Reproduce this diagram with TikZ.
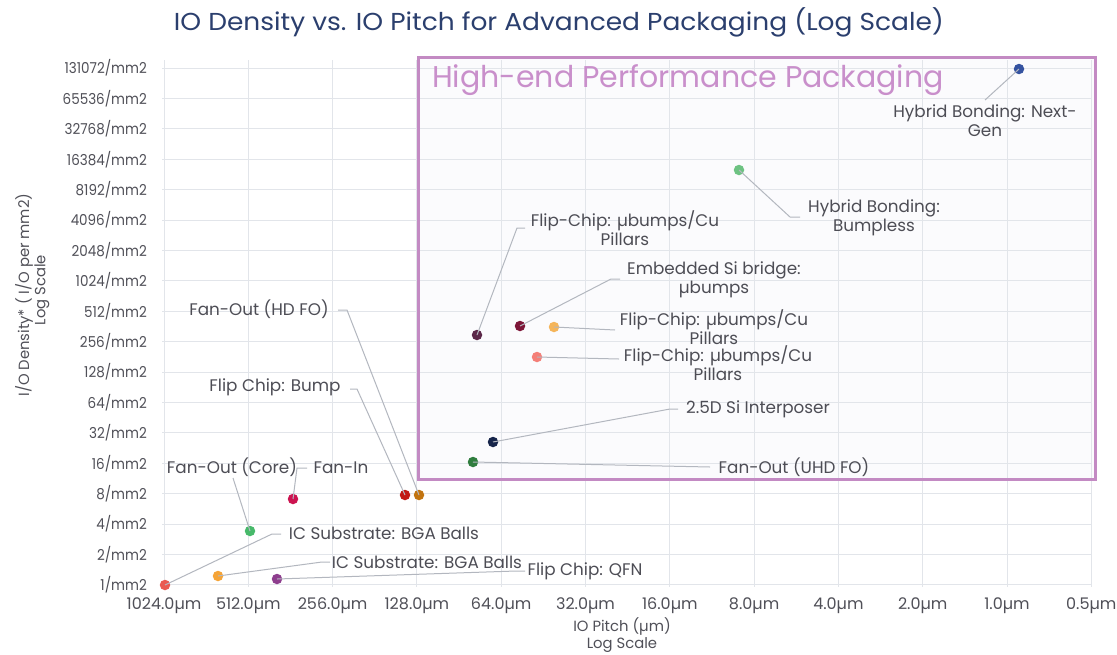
\documentclass[tikz,border=0pt]{standalone}
\usepackage{fontspec}
\setmainfont{Poppins}
\newfontfamily\narrowfont[FakeStretch=0.9]{Poppins}
\newfontfamily\widefont[FakeStretch=1.08]{Poppins}
\definecolor{titleblue}{HTML}{2B3F6E}
\definecolor{tickgray}{HTML}{505058}
\definecolor{lblgray}{HTML}{4D4D55}
\definecolor{gridc}{HTML}{E2E5EA}
\definecolor{leadc}{HTML}{B3B7BF}
\definecolor{pinkc}{HTML}{C38AC3}
\definecolor{pinkt}{HTML}{C98FCB}
\definecolor{boxfill}{HTML}{FBFBFD}
\definecolor{cA}{HTML}{3553A0}
\definecolor{cB}{HTML}{6DC282}
\definecolor{cC}{HTML}{5B2748}
\definecolor{cD}{HTML}{7D1638}
\definecolor{cE}{HTML}{F5B55A}
\definecolor{cF}{HTML}{F47F78}
\definecolor{cG}{HTML}{16244A}
\definecolor{cH}{HTML}{2F7D3E}
\definecolor{cI}{HTML}{C27410}
\definecolor{cJ}{HTML}{C21A14}
\definecolor{cK}{HTML}{CC1450}
\definecolor{cL}{HTML}{47B96A}
\definecolor{cM}{HTML}{EA5A50}
\definecolor{cN}{HTML}{F5A437}
\definecolor{cO}{HTML}{8E3E8E}
\begin{document}
\begin{tikzpicture}[x=1pt,y=-1pt,
  yticklbl/.style={font=\narrowfont\fontsize{15}{17}\selectfont, text=tickgray, inner sep=0pt},
  xticklbl/.style={font=\fontsize{16}{18}\selectfont, text=tickgray, inner sep=0pt},
  axtitle/.style={font=\fontsize{14.8}{17}\selectfont, text=tickgray, inner sep=0pt},
  lbl/.style={font=\fontsize{16.8}{19}\selectfont, text=lblgray, align=center, inner sep=0pt},
  dotn/.style={circle, inner sep=0pt, minimum size=10.5pt},
  leader/.style={draw=leadc, line width=1pt},
  gridline/.style={draw=gridc, line width=1pt}]
\useasboundingbox (0,0) rectangle (1117,654);
\fill[white] (0,0) rectangle (1117,654);
% title
\node[font=\widefont\fontsize{24.5}{28}\selectfont, text=titleblue] (title) at (559,22) {IO Density vs. IO Pitch for Advanced Packaging (Log Scale)};
% box fill
\fill[boxfill] (418,57) rectangle (1095,479);
% grid
\foreach \i in {0,...,11} {
  \draw[gridline] ({164+84.3*\i},60) -- ({164+84.3*\i},587);
}
\foreach \j in {0,...,17} {
  \draw[gridline] (162,{68+30.41*\j}) -- (1092,{68+30.41*\j});
}
% y tick labels
\foreach \lab [count=\j from 0] in {131072,65536,32768,16384,8192,4096,2048,1024,512,256,128,64,32,16,8,4,2,1} {
  \node[yticklbl, anchor=east] at (147,{68+30.41*\j}) {\lab/mm2};
}
% x tick labels
\foreach \lab [count=\i from 0] in {1024.0,512.0,256.0,128.0,64.0,32.0,16.0,8.0,4.0,2.0,1.0,0.5} {
  \node[xticklbl] at ({164+84.3*\i},606) {\lab µm};
}
% axis titles
\node[axtitle, rotate=90] (ytitle) at (24,295) {I/O Density* ( I/O per mm2)};
\node[axtitle, rotate=90] (ytitle2) at (42,290) {Log Scale};
\node[axtitle] (xtitle) at (622,627) {IO Pitch (µm)};
\node[axtitle] (xtitle2) at (622,645) {Log Scale};
% box border
\draw[pinkc, line width=3pt] (418,57) rectangle (1095,479);
\node[font=\fontsize{30}{32}\selectfont, text=pinkt, anchor=west, inner sep=0pt] (boxtitle) at (432,80) {High-end Performance Packaging};
% labels
\node[lbl] (L1) at (985,121) {Hybrid Bonding: Next-\\Gen};
\node[lbl] (L2) at (874,218) {Hybrid Bonding:\\Bumpless};
\node[lbl] (L3) at (625,228) {Flip-Chip: µbumps/Cu\\Pillars};
\node[lbl] (L4) at (714,280) {Embedded Si bridge:\\µbumps};
\node[lbl] (L5) at (714,327) {Flip-Chip: µbumps/Cu\\Pillars};
\node[lbl] (L6) at (718,363) {Flip-Chip: µbumps/Cu\\Pillars};
\node[lbl] (L7) at (758,409) {2.5D Si Interposer};
\node[lbl] (L8) at (794,467) {Fan-Out (UHD FO)};
\node[lbl] (L9) at (259,309) {Fan-Out (HD FO)};
\node[lbl] (L10) at (275,387) {Flip Chip: Bump};
\node[lbl] (L11) at (341,468) {Fan-In};
\node[lbl] (L12) at (232,467) {Fan-Out (Core)};
\node[lbl] (L13) at (384,533) {IC Substrate: BGA Balls};
\node[lbl] (L14) at (427,562) {IC Substrate: BGA Balls};
\node[lbl] (L15) at (585,571) {Flip Chip: QFN};
% dots
\node[dotn, fill=cA] (d1) at (1019,69) {};
\node[dotn, fill=cB] (d2) at (739,170) {};
\node[dotn, fill=cC] (d3) at (477,335) {};
\node[dotn, fill=cD] (d4) at (520,326) {};
\node[dotn, fill=cE] (d5) at (554,327) {};
\node[dotn, fill=cF] (d6) at (537,357) {};
\node[dotn, fill=cG] (d7) at (493,442) {};
\node[dotn, fill=cH] (d8) at (473,462) {};
\node[dotn, fill=cI] (d9) at (419,495) {};
\node[dotn, fill=cJ] (d10) at (405,495) {};
\node[dotn, fill=cK] (d11) at (293,499) {};
\node[dotn, fill=cL] (d12) at (250,531) {};
\node[dotn, fill=cM] (d13) at (165,585) {};
\node[dotn, fill=cN] (d14) at (218,576) {};
\node[dotn, fill=cO] (d15) at (277,579) {};
% leader bend/end coordinates
\coordinate (e1) at (985,100);
\coordinate (b2) at (790,217); \coordinate (e2) at (800,217);
\coordinate (b3) at (517,228); \coordinate (e3) at (525,228);
\coordinate (b4) at (611,279); \coordinate (e4) at (620,279);
\coordinate (e5) at (615,330);
\coordinate (e6) at (619,359);
\coordinate (b7) at (670,409); \coordinate (e7) at (678,409);
\coordinate (e8) at (710,467);
\coordinate (b9) at (347,310); \coordinate (e9) at (338,310);
\coordinate (b10) at (357,389); \coordinate (e10) at (350,389);
\coordinate (b11) at (297,468); \coordinate (e11) at (307,468);
\coordinate (e12) at (233,478);
\coordinate (b13) at (272,534); \coordinate (e13) at (281,534);
\coordinate (b14) at (322,562); \coordinate (e14) at (330,562);
\coordinate (b15) at (516,571); \coordinate (e15) at (525,571);
% leaders (drawn over the dots, from their centres)
\draw[leader] (d1.center) -- (e1);
\draw[leader] (d2.center) -- (b2) -- (e2);
\draw[leader] (d3.center) -- (b3) -- (e3);
\draw[leader] (d4.center) -- (b4) -- (e4);
\draw[leader] (d5.center) -- (e5);
\draw[leader] (d6.center) -- (e6);
\draw[leader] (d7.center) -- (b7) -- (e7);
\draw[leader] (d8.center) -- (e8);
\draw[leader] (d9.center) -- (b9) -- (e9);
\draw[leader] (d10.center) -- (b10) -- (e10);
\draw[leader] (d11.center) -- (b11) -- (e11);
\draw[leader] (d12.center) -- (e12);
\draw[leader] (d13.center) -- (b13) -- (e13);
\draw[leader] (d14.center) -- (b14) -- (e14);
\draw[leader] (d15.center) -- (b15) -- (e15);
\end{tikzpicture}
\end{document}
